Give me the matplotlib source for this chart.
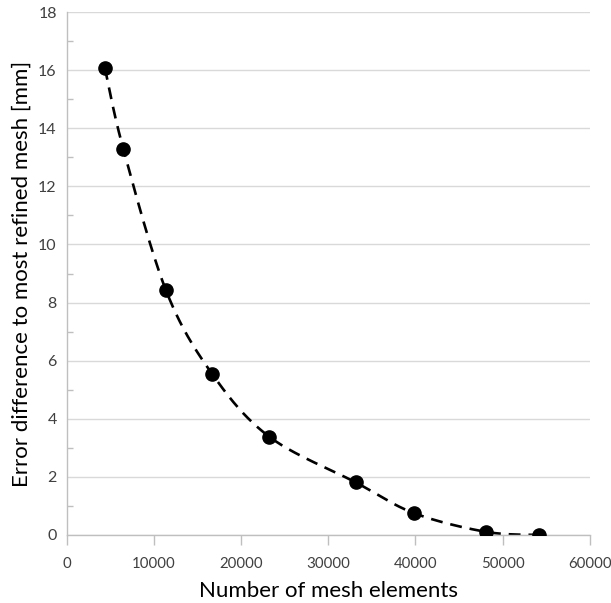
import numpy as np
import matplotlib
matplotlib.use("Agg")
import matplotlib.pyplot as plt
from matplotlib.ticker import MultipleLocator

# Mesh convergence study data
mesh_elements = [4400, 6500, 11400, 16700, 23250, 33150, 39850, 48050, 54150]
error_mm = [16.07, 13.30, 8.42, 5.54, 3.38, 1.81, 0.75, 0.11, 0.0]

x_ticks = [0, 10000, 20000, 30000, 40000, 50000, 60000]
y_ticks = [0, 2, 4, 6, 8, 10, 12, 14, 16, 18]


def smooth_curve(xs, ys, n=40):
    """Catmull-Rom style smoothing through every point."""
    p = np.column_stack([xs, ys]).astype(float)
    pts = np.vstack([p[0], p, p[-1]])
    out = []
    t = np.linspace(0, 1, n)[:, None]
    for i in range(1, len(pts) - 2):
        p0, p1, p2, p3 = pts[i - 1], pts[i], pts[i + 1], pts[i + 2]
        c1 = p1 + (p2 - p0) / 6.0
        c2 = p2 - (p3 - p1) / 6.0
        seg = ((1 - t) ** 3) * p1 + 3 * ((1 - t) ** 2) * t * c1 \
            + 3 * (1 - t) * t ** 2 * c2 + t ** 3 * p2
        out.append(seg if i == 1 else seg[1:])
    seg = np.vstack(out)
    return seg[:, 0], seg[:, 1]


plt.rcParams['font.family'] = ['Lato', 'DejaVu Sans']

fig = plt.figure(figsize=(6.11, 6.03), dpi=100)
ax = fig.add_axes([66.5 / 611, 1 - 535 / 603, (590 - 66.5) / 611, (535 - 12) / 603])

sx, sy = smooth_curve(mesh_elements, error_mm)
ax.plot(sx, sy, color='black', lw=1.9, dashes=(4.5, 3), zorder=2)
ax.plot(mesh_elements, error_mm, 'o', color='black', ms=9.5, zorder=3)

ax.set_xlim(0, 60000)
ax.set_ylim(0, 18)
ax.set_xticks(x_ticks)
ax.set_yticks(y_ticks)
ax.yaxis.set_minor_locator(MultipleLocator(1))

ax.grid(axis='y', which='major', color='#d9d9d9', lw=1.0)
ax.set_axisbelow(True)

for side in ('top', 'right'):
    ax.spines[side].set_visible(False)
for side in ('left', 'bottom'):
    ax.spines[side].set_color('#bfbfbf')
    ax.spines[side].set_linewidth(1.0)

ax.tick_params(axis='x', which='major', direction='out', length=7, width=1,
               color='#bfbfbf', labelsize=10.8, labelcolor='#404040', pad=9)
ax.tick_params(axis='y', which='major', length=0, labelsize=11.5,
               labelcolor='#404040', pad=7)
ax.tick_params(axis='y', which='minor', direction='in', length=4, width=1,
               color='#bfbfbf')

ax.set_xlabel('Number of mesh elements', fontsize=16, color='black', labelpad=7)
ax.set_ylabel('Error difference to most refined mesh [mm]', fontsize=16,
              color='black', labelpad=5)

fig.savefig('out.png', dpi=100)
